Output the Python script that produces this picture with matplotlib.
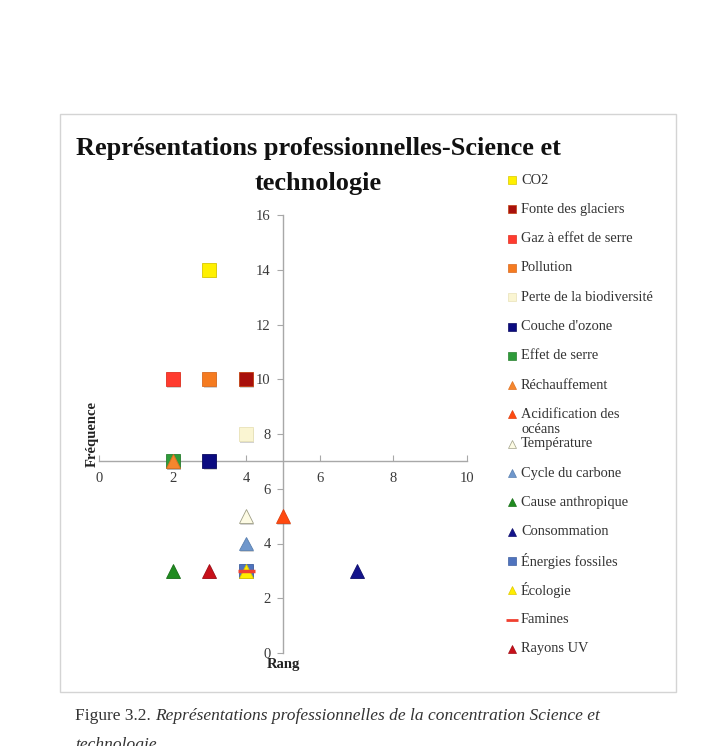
import matplotlib
matplotlib.use("Agg")
import matplotlib.pyplot as plt
from matplotlib import patheffects as pe
from matplotlib.patches import Rectangle

# Data
labels = [
    "CO2", "Fonte des glaciers", "Gaz à effet de serre", "Pollution",
    "Perte de la biodiversité", "Couche d'ozone", "Effet de serre",
    "Réchauffement", "Acidification des", "Température", "Cycle du carbone",
    "Cause anthropique", "Consommation", "Énergies fossiles", "Écologie",
    "Famines", "Rayons UV",
]
rang = [3, 4, 2, 3, 4, 3, 2, 2, 5, 4, 4, 2, 7, 4, 4, 4, 3]
freq = [14, 10, 10, 10, 8, 7, 7, 7, 5, 5, 4, 3, 3, 3, 3, 3, 3]
x_ticks = [0, 2, 4, 6, 8, 10]
y_ticks = [0, 2, 4, 6, 8, 10, 12, 14, 16]

# styles
markers = ["s", "s", "s", "s", "s", "s", "s", "^", "^", "^", "^", "^", "^", "s", "^", "_", "^"]
faces = ["#FFF000", "#A8100C", "#FF3B2F", "#F57B20", "#FAF5D2", "#0B0B80", "#2E9B3A",
         "#F5862E", "#FF4A10", "#FDFBE4", "#6F97CC", "#1F8B1F", "#14148C", "#4F73BE",
         "#FFEE00", "#F04030", "#C8101A"]
edges = ["#D8C800", "#C04010", "#E03020", "#D86A20", "#E8E2B8", "#0B0B60", "#2A8030",
         "#E07020", "#E04010", "#A0A088", "#5A80B0", "#1A701A", "#10106C", "#3F60A0",
         "#E0C800", "#F04030", "#A00C14"]

serif = "Liberation Serif"
W, H = 715, 746

fig = plt.figure(figsize=(W / 100, H / 100), dpi=100)
fig.patches.append(Rectangle((60 / W, 1 - 692 / H), 616 / W, 578 / H,
                             transform=fig.transFigure, fill=False,
                             edgecolor="#d4d4d4", lw=1.0))

ax = fig.add_axes([99 / W, 1 - 653 / H, 368 / W, 438 / H])
ax.set_xlim(0, 10)
ax.set_ylim(0, 16)

shadow = [pe.withSimplePatchShadow(offset=(0.8, -1.2), shadow_rgbFace="#808080", alpha=0.35)]
for xv, yv, m, fc, ec in zip(rang, freq, markers, faces, edges):
    is_dash = m == "_"
    ax.plot([xv], [yv], linestyle="none", marker=m, markersize=12 if is_dash else 10,
            markerfacecolor=fc, markeredgecolor=fc if is_dash else ec,
            markeredgewidth=2.5 if is_dash else 0.6, path_effects=shadow, zorder=3)

# axes crossing at x=5, y=7
for s in ["top", "right"]:
    ax.spines[s].set_visible(False)
ax.spines["left"].set_position(("data", 5))
ax.spines["bottom"].set_position(("data", 7))
for s in ["left", "bottom"]:
    ax.spines[s].set_color("#a8a8a8")
    ax.spines[s].set_linewidth(1.0)

ax.set_xticks(x_ticks)
ax.set_yticks(y_ticks)
ax.tick_params(axis="x", direction="in", length=4, color="#a8a8a8", pad=8,
               labelsize=10.5, labelcolor="#3a3a3a")
ax.tick_params(axis="y", direction="out", length=4, color="#a8a8a8", pad=5,
               labelsize=10.5, labelcolor="#3a3a3a")
for t in ax.get_xticklabels() + ax.get_yticklabels():
    t.set_fontfamily(serif)

ax.set_xlabel("Rang", fontfamily=serif, fontweight="bold", fontsize=10.5, color="#222222")
ax.xaxis.set_label_coords(0.5, -0.012)
ax.set_ylabel("Fréquence", fontfamily=serif, fontweight="bold", fontsize=10.5, color="#222222")
ax.yaxis.set_label_coords(0.0, 0.5)

fig.text(318 / W, 1 - 166 / H, "Représentations professionnelles-Science et\ntechnologie",
         ha="center", va="center", fontfamily=serif, fontweight="bold",
         fontsize=19, linespacing=1.7, color="#111111")

# legend drawn in its own axes, one row per series
row_h = 29.3
top = 180 - row_h / 2
lax = fig.add_axes([500 / W, 1 - (top + row_h * len(labels)) / H,
                    200 / W, row_h * len(labels) / H])
lax.set_xlim(0, 200)
lax.set_ylim(len(labels) - 0.5, -0.5)
lax.axis("off")
for i, (lab, m, fc, ec) in enumerate(zip(labels, markers, faces, edges)):
    is_dash = m == "_"
    lax.plot([12], [i], linestyle="none", marker=m, markersize=8 if is_dash else 6,
             markerfacecolor=fc, markeredgecolor=fc if is_dash else ec,
             markeredgewidth=2 if is_dash else 0.5)
    lax.text(21, i, lab, fontfamily=serif, fontsize=10.4, color="#333333",
             va="center", ha="left")
lax.text(21, labels.index("Acidification des") + 0.5, "océans", fontfamily=serif,
         fontsize=10.4, color="#333333", va="center", ha="left")

fig.canvas.draw()
r = fig.canvas.get_renderer()

# caption
cap1 = fig.text(75 / W, 1 - 716 / H, "Figure 3.2. ", fontfamily=serif, fontsize=12.5,
                color="#333333", va="center")
bb = cap1.get_window_extent(r)
fig.text(bb.x1 / W, 1 - 716 / H,
         "Représentations professionnelles de la concentration Science et",
         fontfamily=serif, fontstyle="italic", fontsize=12.5, color="#333333", va="center")
fig.text(75 / W, 1 - 745 / H, "technologie", fontfamily=serif, fontstyle="italic",
         fontsize=12.5, color="#333333", va="center")

fig.savefig("out.png", dpi=100)
